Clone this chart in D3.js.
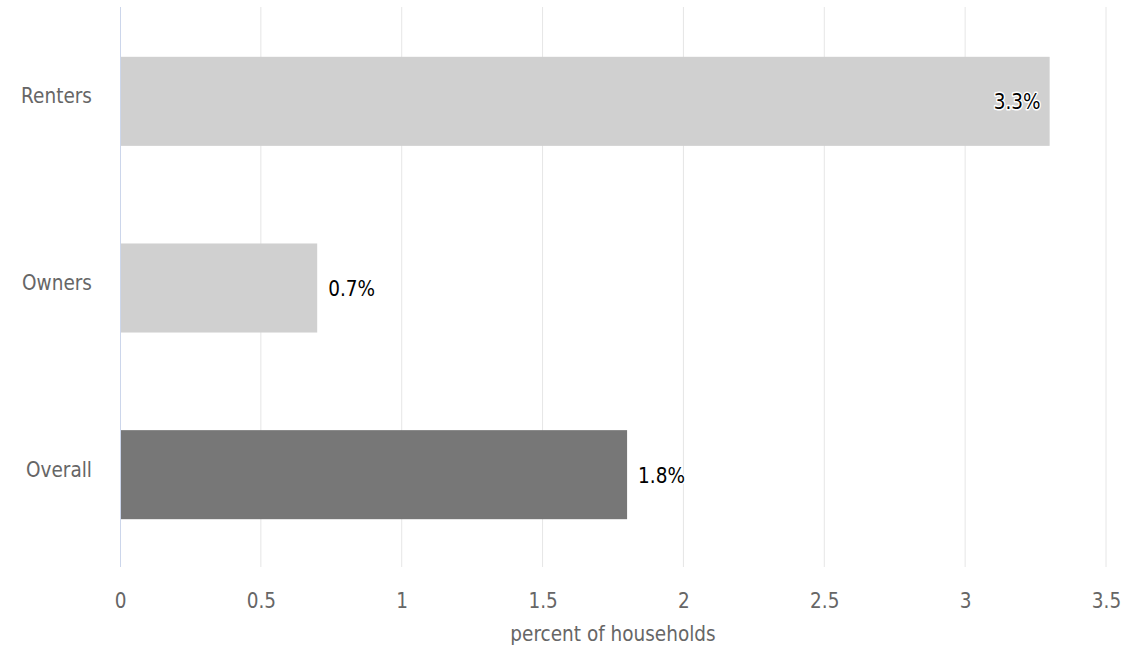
<!DOCTYPE html>
<html><head><meta charset="utf-8">
<script src="https://cdn.jsdelivr.net/npm/d3@7"></script>
<style>body{margin:0;background:#fff}svg{display:block}text{font-family:"DejaVu Sans",sans-serif}</style>
</head><body>
<svg id="c" width="1127" height="648"></svg>
<script>
const categories = ["Renters", "Owners", "Overall"];
const values = [3.3, 0.7, 1.8];
const colors = ["#d0d0d0", "#d0d0d0", "#777777"];
const tickValues = [0, 0.5, 1, 1.5, 2, 2.5, 3, 3.5];
const axisTitle = "percent of households";

const svg = d3.select("#c");
const m = {left: 120, right: 21, top: 7, bottom: 81};
const W = 1127, H = 648;
const x = d3.scaleLinear().domain([0, 3.5]).range([m.left, W - m.right]);
const y = d3.scaleBand().domain(categories).range([m.top, H - m.bottom]).padding(0);
const barFrac = 0.477;
const SX = 0.84;

// grid
svg.append("g").selectAll("line").data(tickValues.slice(1)).join("line")
  .attr("x1", d => x(d)).attr("x2", d => x(d))
  .attr("y1", m.top).attr("y2", H - m.bottom)
  .attr("stroke", "#e6e6e6").attr("stroke-width", 1);

// bars
const bh = y.bandwidth() * barFrac;
svg.append("g").selectAll("rect").data(values).join("rect")
  .attr("x", x(0)).attr("width", d => x(d) - x(0))
  .attr("y", (d, i) => y(categories[i]) + (y.bandwidth() - bh) / 2 + 1)
  .attr("height", bh)
  .attr("fill", (d, i) => colors[i]);

// y axis line
svg.append("line").attr("x1", x(0) + 0.5).attr("x2", x(0) + 0.5)
  .attr("y1", m.top).attr("y2", H - m.bottom).attr("stroke", "#ccd6eb");

// x axis tick labels
const xa = svg.append("g").attr("transform", `translate(0,${H - m.bottom})`)
  .call(d3.axisBottom(x).tickValues(tickValues).tickSize(0).tickPadding(0).tickFormat(d3.format("")));
xa.select(".domain").remove();
xa.selectAll("text").attr("y", 41).attr("dy", 0)
  .attr("font-size", 22).attr("fill", "#666").attr("font-family", "DejaVu Sans")
  .attr("transform", `scale(${SX},1)`);

// axis title
svg.append("text").attr("transform", `translate(${(x(0) + x(3.5)) / 2},641) scale(${SX},1)`)
  .attr("text-anchor", "middle").attr("font-size", 22).attr("fill", "#666").text(axisTitle);

// y axis labels
const ya = svg.append("g").attr("transform", `translate(${x(0)},0)`)
  .call(d3.axisLeft(y).tickSize(0).tickPadding(0));
ya.select(".domain").remove();
ya.selectAll(".tick text").attr("x", 0).attr("dy", 0).attr("y", 3)
  .attr("font-size", 22).attr("fill", "#666").attr("font-family", "DejaVu Sans")
  .attr("transform", `translate(-28,0) scale(${SX},1)`);

// data labels
svg.append("g").selectAll("text").data(values).join("text")
  .attr("transform", (d, i) => {
    const cy = y(categories[i]) + y.bandwidth() / 2 + 9;
    const inside = d > 3;
    const tx = inside ? x(d) - 9 : x(d) + 11;
    return `translate(${tx},${cy}) scale(${SX},1)`;
  })
  .attr("text-anchor", d => d > 3 ? "end" : "start")
  .attr("font-size", 22).attr("fill", "#000")
  .attr("stroke", "#fff").attr("stroke-width", 3).attr("stroke-linejoin", "round")
  .attr("paint-order", "stroke")
  .text(d => d + "%");
</script>
</body></html>
